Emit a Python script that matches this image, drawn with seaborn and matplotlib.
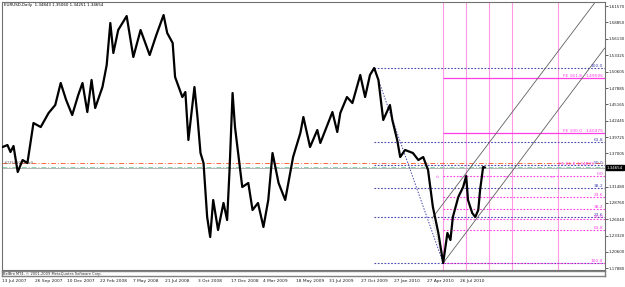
import numpy as np
import matplotlib
matplotlib.use("Agg")
from matplotlib import pyplot as plt
from matplotlib import transforms
import seaborn as sns

# daily closes (x = bar number from 13 Jul 2007)
bars = [1, 9, 14, 19, 26, 34, 42, 52, 64, 77, 88, 97, 106, 116, 126, 133, 141, 148,
        154, 166, 173, 179, 184, 192, 206, 217, 229, 244, 255, 267, 273, 282, 286,
        298, 303, 308, 318, 323, 328, 333, 339, 344, 349, 357, 366, 372, 376, 381,
        385, 397, 407, 414, 423, 432, 440, 447, 457, 468, 481, 493, 498, 509, 521,
        526, 546, 554, 559, 570, 579, 592, 600, 608, 615, 622, 630, 641, 645, 653,
        658, 666, 679, 688, 696, 704, 712, 721, 729, 736, 741, 745, 754, 762, 767,
        770, 777, 782, 787, 790, 795, 798]
closes = [1.3807, 1.3840, 1.3724, 1.3824, 1.3390, 1.3590, 1.3540, 1.4207, 1.4140,
          1.4374, 1.4507, 1.4874, 1.4590, 1.4340, 1.4674, 1.4874, 1.4390, 1.4924,
          1.4457, 1.4807, 1.5174, 1.5874, 1.5374, 1.5757, 1.5990, 1.5307, 1.5757,
          1.5340, 1.5674, 1.6007, 1.5707, 1.5540, 1.4974, 1.4640, 1.4724, 1.3924,
          1.4807, 1.4307, 1.3707, 1.3540, 1.2640, 1.2307, 1.2924, 1.2424, 1.2874,
          1.2590, 1.3424, 1.4707, 1.4140, 1.3140, 1.3207, 1.2757, 1.2874, 1.2474,
          1.2924, 1.3707, 1.3207, 1.2924, 1.3640, 1.4040, 1.4307, 1.3807, 1.4090,
          1.3874, 1.4390, 1.4057, 1.4374, 1.4640, 1.4540, 1.5007, 1.4640, 1.5007,
          1.5124, 1.4924, 1.4257, 1.4507, 1.4257, 1.3924, 1.3640, 1.3757, 1.3707,
          1.3590, 1.3640, 1.3424, 1.2807, 1.2374, 1.1874, 1.2374, 1.2257, 1.2640,
          1.2974, 1.3140, 1.3324, 1.2924, 1.2707, 1.2640, 1.2757, 1.3090, 1.3474,
          1.34654]

date_ticks = [0, 54, 108, 162, 216, 270, 324, 378, 432, 486, 540, 594, 648, 702, 756]
date_labels = ['13 Jul 2007', '26 Sep 2007', '10 Dec 2007', '22 Feb 2008', '7 May 2008',
               '21 Jul 2008', '3 Oct 2008', '17 Dec 2008', '4 Mar 2009', '18 May 2009',
               '31 Jul 2009', '27 Oct 2009', '27 Jan 2010', '27 Apr 2010', '26 Jul 2010']

price_labels = ['1.61570', '1.58850', '1.56130', '1.53325', '1.50605', '1.47885',
                '1.45165', '1.42445', '1.39725', '1.37005', '1.31480', '1.28760',
                '1.26040', '1.23320', '1.20600', '1.17880']
price_ticks = [float(s) for s in price_labels]

header = 'EURUSD,Daily  1.34843 1.35060 1.34251 1.34654'
last_price = 1.34654
copyright_text = 'BelBro MT4, \u00a9 2001-2009 MetaQuotes Software Corp.'

# fibonacci retracement: Nov 2009 high -> Jun 2010 low
fib_start, fib_end = 615, 729
fib_high, fib_low = 1.5124, 1.1874
fib_levels = [0.0, 23.6, 38.2, 50.0, 61.8, 100.0]

# retracement of the summer 2010 rally (0.0 at top)
fib2_start = 729
fib2_high, fib2_low = 1.3324, 1.1874
fib2_levels = [0.0, 23.6, 38.2, 50.0, 61.8, 100.0]

# fibonacci expansion
fe_names = ['FE 61.8', 'FE 100.0', 'FE 161.8']
fe_prices = [1.34893, 1.40475, 1.49506]

# fibonacci time zones
tz_bars = [729, 767, 805, 843, 919]
tz_labels = ['0', '1', '2', '3', '5']

# channel lines
lower_bars, lower_prices = [729, 996], [1.1874, 1.5457]
upper_bars, upper_prices = [711, 996], [1.2624, 1.6432]

order_price = 1.3535
order_label = '#23589024 sell'
tp_price = 1.3479

sns.set_style('white')
plt.rcParams['font.family'] = ['Liberation Sans Narrow', 'DejaVu Sans']
fs = 3.2

W, H = 625, 287
fig = plt.figure(figsize=(W / 100, H / 100), dpi=100)
ax = fig.add_axes([2 / W, (H - 270) / H, 603 / W, 268 / H])
ax2 = fig.add_axes([2 / W, (H - 276) / H, 603 / W, 5 / H], sharex=ax)

x0, x1 = 0.8, 996.4
ax.set_xlim(x0, x1)
ax.set_ylim(1.1757, 1.6224)

blue = '#4848b0'
pink = '#ff3ce6'
light_pink = '#ff99e6'

# time zones
ax.vlines(tz_bars, 1.1757, 1.6224, color=light_pink, lw=0.8, zorder=1)
for b, t in zip(tz_bars, tz_labels):
    ax.text(b - 4, 1.333, t, rotation=90, color=pink, fontsize=fs - 0.4,
            ha='right', va='center')

# order, stop and bid lines
ax.axhline(order_price, color='#ff6a3a', lw=0.7, ls=(0, (5, 2, 1, 2)), zorder=2)
ax.axhline(tp_price, color='#8fcfb0', lw=0.7, ls=(0, (5, 2, 1, 2)), zorder=2)
ax.axhline(last_price, color='#a8a8a8', lw=0.6, zorder=2)
ax.text(4, order_price, order_label, fontsize=fs - 0.6, color='#606060',
        va='center', ha='left', zorder=3)

# blue retracement
fib_prices = [fib_low + l / 100 * (fib_high - fib_low) for l in fib_levels]
ax.hlines(fib_prices, fib_start, x1, colors=blue, lw=0.8, linestyles=(0, (1.5, 1.5)), zorder=2)
ax.plot([fib_start, fib_end], [fib_high, fib_low], color=blue, lw=0.7, ls=(0, (1.5, 1.5)))
for l, p in zip(fib_levels, fib_prices):
    if l > 0:
        ax.text(x1 - 3, p, '%.1f' % l, color=blue, fontsize=fs, ha='right', va='bottom')

# pink retracement
fib2_prices = [fib2_high - l / 100 * (fib2_high - fib2_low) for l in fib2_levels]
ax.hlines(fib2_prices, fib2_start, x1, colors=pink, lw=0.8, linestyles=(0, (1.5, 1.5)), zorder=2)
for l, p in zip(fib2_levels, fib2_prices):
    ax.text(x1 - 3, p, '%.1f' % l, color=pink, fontsize=fs, ha='right', va='bottom')

# expansion
ax.hlines(fe_prices[1:], fib2_start, x1, colors=pink, lw=0.9, zorder=2)
for n, p in zip(fe_names, fe_prices):
    ax.text(920 if n == 'FE 61.8' else 927, p, n, color=pink, fontsize=fs,
            ha='left', va='bottom')
    ax.text(x1 - 17 if n == 'FE 61.8' else x1 - 3, p, '%.5f' % p, color=pink,
            fontsize=fs, ha='right', va='bottom')

# channel
ax.plot(lower_bars, lower_prices, color='#606060', lw=0.6)
ax.plot(upper_bars, upper_prices, color='#606060', lw=0.6)
ax.plot([upper_bars[0], lower_bars[0]], [upper_prices[0], lower_prices[0]],
        color='#909090', lw=0.5, ls=':')

# price
sns.lineplot(x=bars, y=closes, ax=ax, color='black', lw=1.6, estimator=None,
             sort=False, zorder=4)

ax.set_xlabel('')
ax.set_ylabel('')
ax.yaxis.tick_right()
ax.set_yticks(price_ticks)
ax.set_yticklabels(price_labels)
ax.tick_params(axis='y', direction='out', length=2, width=0.5, pad=0.8,
               labelsize=fs - 0.3, colors='#202020')
ax.tick_params(axis='x', bottom=False, labelbottom=False)
for s in ax.spines.values():
    s.set_color('#707070')
    s.set_linewidth(0.8)

tr = transforms.blended_transform_factory(ax.transAxes, ax.transData)
ax.text(1.003, last_price, '%.5f' % last_price, transform=tr, color='white',
        fontsize=fs - 0.3, va='center', ha='left',
        bbox=dict(fc='black', ec='black', pad=0.5))

ax.text(0.004, 0.995, header, transform=ax.transAxes, fontsize=fs - 0.3,
        va='top', ha='left', color='black')

ax2.set_yticks([])
ax2.set_xticks(date_ticks)
ax2.set_xticklabels(date_labels, ha='left')
ax2.tick_params(axis='x', direction='out', length=2, width=0.5, pad=0.5,
                labelsize=fs, colors='#202020')
for s in ax2.spines.values():
    s.set_color('#808080')
    s.set_linewidth(1.0)
ax2.text(0.002, 0.5, copyright_text, transform=ax2.transAxes, fontsize=fs - 0.6,
         va='center', ha='left', color='#303030')

fig.savefig('out.png', dpi=100)
